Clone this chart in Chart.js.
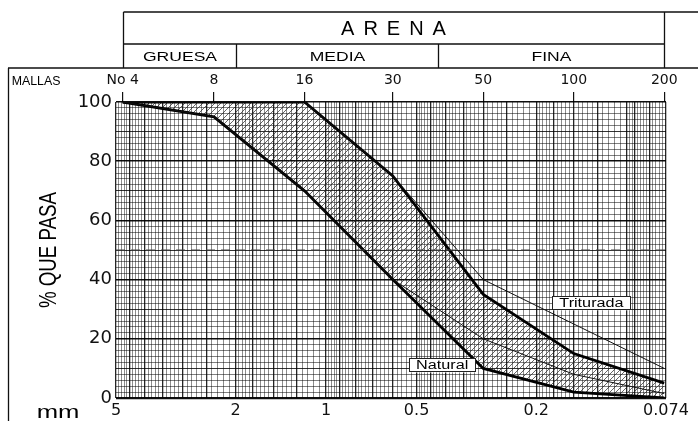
<!DOCTYPE html>
<html>
<head>
<meta charset="utf-8">
<script src="https://cdn.jsdelivr.net/npm/chart.js@4.4.1/dist/chart.umd.min.js"></script>
<style>
  html, body { margin: 0; padding: 0; background: #fff; }
</style>
</head>
<body>
<canvas id="granChart" width="698" height="421"></canvas>
<script>
// sieve openings (mm) and their mesh numbers
let sieveSizes = [4.75, 2.36, 1.18, 0.6, 0.3, 0.15, 0.075];
let meshLabels = ['No 4', '8', '16', '30', '50', '100', '200'];

// % que pasa
let naturalUpper = [100, 100, 100, 75, 35, 15, 5];
let naturalLower = [100, 95, 70, 40, 10, 2, 0];
let crushedUpper = [100, 100, 100, 75, 40, 25, 10];
let crushedLower = [100, 95, 70, 40, 20, 8, 1.5];

// axis ticks
let mmTicks = [5, 2, 1, 0.5, 0.2, 0.074];
let mmTickLabels = ['5', '2', '1', '0.5', '0.2', '0.074'];
let pctTicks = [0, 20, 40, 60, 80, 100];

// header zones (mm limits)
let zoneLimits = [4.75, 2, 0.425, 0.075];
let zoneNames = ['GRUESA', 'MEDIA', 'FINA'];

const FONT = '"Liberation Sans", Arial, sans-serif';
const NUMS = '"DejaVu Sans", "Liberation Sans", sans-serif';

function pts(values) {
  return sieveSizes.map((s, i) => ({ x: s, y: values[i] }));
}

// log paper: dense vertical lines, every 5th a bit darker
let gridBands = [[2, 5, 0.1], [1, 2, 0.05], [0.5, 1, 0.02], [0.2, 0.5, 0.01], [0.1, 0.2, 0.005], [0.074, 0.1, 0.002]];
let gridVals = [];
let gridMajor = {};
gridBands.forEach(b => {
  let n = Math.round((b[1] - b[0]) / b[2]);
  for (let i = 0; i <= n; i++) {
    let v = +(b[0] + i * b[2]).toFixed(4);
    if (gridMajor[v] === undefined) gridVals.push(v);
    if (i % 5 === 0 || i === n) gridMajor[v] = true;
    else if (gridMajor[v] === undefined) gridMajor[v] = false;
  }
});
let pctGrid = [];
for (let p = 0; p <= 100; p += 2) pctGrid.push(p);

function makeHatch() {
  let c = document.createElement('canvas');
  c.width = 6; c.height = 6;
  let g = c.getContext('2d');
  g.strokeStyle = 'rgba(40,40,40,0.8)';
  g.lineWidth = 0.9;
  g.beginPath();
  g.moveTo(0, 6); g.lineTo(6, 0);
  g.moveTo(-1, 1); g.lineTo(1, -1);
  g.moveTo(5, 7); g.lineTo(7, 5);
  g.stroke();
  return g.createPattern(c, 'repeat');
}

let curveNotes = [
  { text: 'Triturada', x: 0.131, y: 32 },
  { text: 'Natural', x: 0.411, y: 11 }
];

// wide text, like the original drawing
function wideText(c, txt, x, y, sx, rot) {
  c.save();
  c.translate(x, y);
  if (rot) c.rotate(rot);
  c.scale(sx, 1);
  c.fillText(txt, 0, 0);
  c.restore();
}

const decor = {
  id: 'decor',
  beforeDraw(chart) {
    let c = chart.ctx;
    c.save();
    c.fillStyle = '#fff';
    c.fillRect(0, 0, chart.width, chart.height);
    c.restore();
  },
  afterDraw(chart) {
    let c = chart.ctx;
    let xs = chart.scales.xMesh;
    let xa = chart.scales.x, ya = chart.scales.y;
    c.save();

    // labelled boxes on the curves
    c.font = '12px ' + FONT;
    c.textAlign = 'center';
    c.textBaseline = 'middle';
    curveNotes.forEach(n => {
      let px = xa.getPixelForValue(n.x), py = ya.getPixelForValue(n.y);
      let w = Math.round(c.measureText(n.text).width * 1.35 + 14);
      let bx = Math.round(px - w / 2);
      c.fillStyle = '#fff';
      c.fillRect(bx, py - 7, w, 14);
      c.strokeStyle = '#222';
      c.lineWidth = 1;
      c.strokeRect(bx + 0.5, Math.round(py) - 6.5, w, 13);
      c.fillStyle = '#000';
      wideText(c, n.text, px, py + 0.5, 1.35);
    });

    // header table
    let zx = zoneLimits.map(v => Math.round(xs.getPixelForValue(v)) + 0.5);
    c.strokeStyle = '#111';
    c.lineWidth = 1.3;
    c.beginPath();
    c.moveTo(zx[0], 12); c.lineTo(698, 12);
    c.moveTo(zx[0], 44); c.lineTo(zx[3], 44);
    c.moveTo(8, 68); c.lineTo(698, 68);
    c.moveTo(zx[0], 12); c.lineTo(zx[0], 68);
    c.moveTo(zx[3], 12); c.lineTo(zx[3], 68);
    c.moveTo(zx[1], 44); c.lineTo(zx[1], 68);
    c.moveTo(zx[2], 44); c.lineTo(zx[2], 68);
    c.moveTo(8.5, 68); c.lineTo(8.5, 421);
    c.stroke();

    c.fillStyle = '#000';
    c.textAlign = 'center';
    c.textBaseline = 'middle';
    c.font = '20px ' + FONT;
    c.letterSpacing = '9px';
    c.fillText('ARENA', (zx[0] + zx[3]) / 2 + 4, 29);
    c.letterSpacing = '0px';
    c.font = '13px ' + FONT;
    zoneNames.forEach((z, i) => wideText(c, z, (zx[i] + zx[i + 1]) / 2, 57, 1.35));

    c.font = '13px ' + FONT;
    wideText(c, 'MALLAS', 36, 81, 0.95);
    c.font = '19px ' + FONT;
    wideText(c, 'mm', 58, 413, 1.35);

    // y axis title, tall and narrow
    c.font = '24px ' + FONT;
    wideText(c, '% QUE PASA', 49, ya.getPixelForValue(50), 0.78, -Math.PI / 2);
    c.restore();
  }
};

const ctx = document.getElementById('granChart').getContext('2d');
const hatch = makeHatch();

const granChart = new Chart(ctx, {
  type: 'line',
  data: {
    datasets: [
      { label: '50 %', data: [{ x: 5, y: 50 }, { x: 0.074, y: 50 }], borderColor: '#444', borderWidth: 1.1, borderDash: [9, 6] },
      { label: 'Triturada sup', data: pts(crushedUpper), borderColor: '#111', borderWidth: 1 },
      { label: 'Triturada inf', data: pts(crushedLower), borderColor: '#111', borderWidth: 1 },
      { label: 'Natural sup', data: pts(naturalUpper), borderColor: '#000', borderWidth: 2.8, fill: '+1', backgroundColor: hatch },
      { label: 'Natural inf', data: pts(naturalLower), borderColor: '#000', borderWidth: 2.8 }
    ]
  },
  options: {
    responsive: false,
    animation: false,
    layout: { padding: { left: 0, top: 68, right: 32, bottom: 0 } },
    elements: { point: { radius: 0 }, line: { tension: 0 } },
    plugins: {
      legend: { display: false },
      tooltip: { enabled: false },
      filler: { drawTime: 'beforeDatasetsDraw' }
    },
    scales: {
      x: {
        type: 'logarithmic', position: 'bottom', reverse: true, min: 0.074, max: 5,
        afterBuildTicks: s => { s.ticks = mmTicks.map(v => ({ value: v })); },
        afterFit: s => { s.height = 23; },
        grid: { display: false, drawTicks: false },
        border: { display: false },
        ticks: {
          autoSkip: false, maxRotation: 0, padding: 3, color: '#111',
          font: { size: 16, family: NUMS },
          callback: (v, i) => mmTickLabels[i]
        }
      },
      xGrid: {
        type: 'logarithmic', position: 'bottom', reverse: true, min: 0.074, max: 5,
        afterBuildTicks: s => { s.ticks = gridVals.map(v => ({ value: v })); },
        afterFit: s => { s.height = 0; },
        ticks: { display: false },
        border: { display: false },
        grid: {
          drawTicks: false,
          color: c => gridMajor[c.tick.value] ? 'rgba(0,0,0,0.85)' : 'rgba(0,0,0,0.45)',
          lineWidth: c => gridMajor[c.tick.value] ? 1.3 : 1
        }
      },
      xMesh: {
        type: 'logarithmic', position: 'top', reverse: true, min: 0.074, max: 5,
        afterBuildTicks: s => { s.ticks = sieveSizes.map(v => ({ value: v })); },
        afterFit: s => { s.height = 34; },
        border: { display: false },
        grid: { drawOnChartArea: false, drawTicks: true, tickLength: 10, color: '#111', lineWidth: 1.2 },
        ticks: {
          autoSkip: false, maxRotation: 0, padding: 3, color: '#111',
          font: { size: 14, family: NUMS },
          callback: (v, i) => meshLabels[i]
        }
      },
      y: {
        position: 'left', min: 0, max: 100,
        afterBuildTicks: s => { s.ticks = pctTicks.map(v => ({ value: v })); },
        afterFit: s => { s.width = 116; },
        grid: { display: false, drawTicks: false },
        border: { display: false },
        ticks: { padding: 4, color: '#111', font: { size: 18, family: NUMS } }
      },
      yGrid: {
        position: 'left', min: 0, max: 100,
        afterBuildTicks: s => { s.ticks = pctGrid.map(v => ({ value: v })); },
        afterFit: s => { s.width = 0; },
        ticks: { display: false },
        border: { display: false },
        grid: {
          drawTicks: false,
          color: c => c.tick.value % 20 === 0 ? 'rgba(0,0,0,0.95)' : (c.tick.value % 10 === 0 ? 'rgba(0,0,0,0.8)' : 'rgba(0,0,0,0.5)'),
          lineWidth: c => c.tick.value === 0 ? 2.2 : (c.tick.value % 20 === 0 ? 1.5 : 1)
        }
      }
    }
  },
  plugins: [decor]
});
</script>
</body>
</html>
